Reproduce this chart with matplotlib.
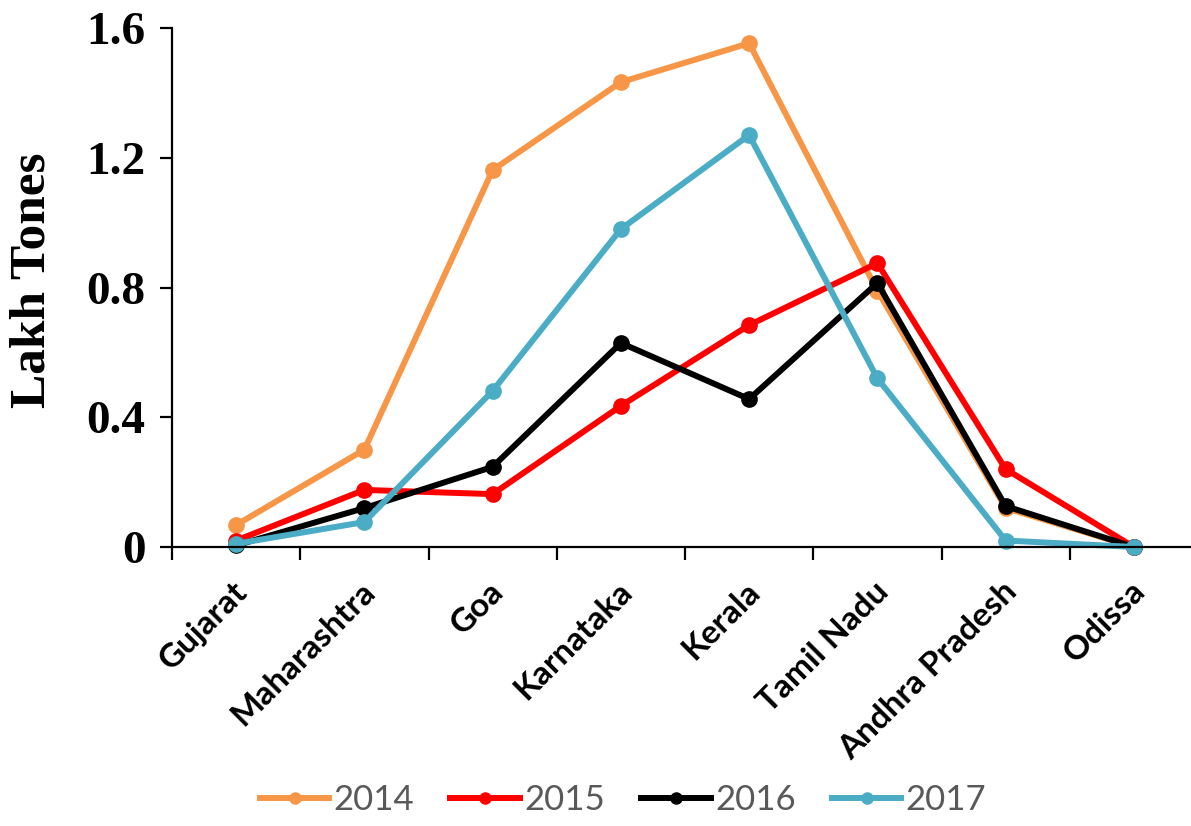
import matplotlib
matplotlib.use("Agg")
import matplotlib.pyplot as plt
from matplotlib.lines import Line2D

states = ["Gujarat", "Maharashtra", "Goa", "Karnataka", "Kerala",
          "Tamil Nadu", "Andhra Pradesh", "Odissa"]
years = ["2014", "2015", "2016", "2017"]

y2014 = [0.068, 0.30, 1.162, 1.433, 1.553, 0.79, 0.12, 0.0]
y2015 = [0.02, 0.176, 0.163, 0.435, 0.684, 0.875, 0.24, 0.0]
y2016 = [0.005, 0.12, 0.247, 0.629, 0.456, 0.814, 0.126, 0.0]
y2017 = [0.01, 0.077, 0.481, 0.98, 1.27, 0.52, 0.02, 0.0]

colors = ["#F79646", "#FF0000", "#000000", "#4BACC6"]
yticks = [0, 0.4, 0.8, 1.2, 1.6]
ytick_labels = ["0", "0.4", "0.8", "1.2", "1.6"]

fig = plt.figure(figsize=(11.91, 8.26), dpi=100)
ax = fig.add_axes([172 / 1191, 1 - 547 / 826, (1198 - 172) / 1191, (547 - 28) / 826])

x = list(range(len(states)))
for vals, c, lab in zip([y2014, y2015, y2016, y2017], colors, years):
    ax.plot(x, vals, color=c, lw=4.3, marker="o", markersize=11,
            solid_joinstyle="round", label=lab, clip_on=False)

ax.set_xlim(-0.5, len(states) - 0.5)
ax.set_ylim(0, 1.6)

for s in ["top", "right"]:
    ax.spines[s].set_visible(False)
for s in ["left", "bottom"]:
    ax.spines[s].set_linewidth(1.6)
    ax.spines[s].set_color("black")

ax.set_yticks(yticks)
ax.set_yticklabels(ytick_labels, fontfamily="Liberation Serif",
                   fontweight="bold", fontsize=34)
ax.tick_params(axis="y", direction="out", length=9, width=1.6, pad=10)

# category boundaries carry the tick marks, labels sit at the centres
ax.set_xticks([i - 0.5 for i in range(len(states) + 1)])
ax.set_xticklabels([])
ax.tick_params(axis="x", direction="out", length=9, width=1.6)
for i, name in enumerate(states):
    ax.annotate(name, xy=(i, 0), xycoords=("data", "axes fraction"),
                xytext=(-3, -21), textcoords="offset points",
                rotation=45, ha="right", va="top", rotation_mode="anchor",
                fontfamily="Lato", fontweight="bold", fontsize=24,
                color="black", annotation_clip=False)

fig.text(33 / 1191, 1 - 280 / 826, "Lakh Tones", rotation=90,
         ha="center", va="center", fontfamily="Liberation Serif",
         fontweight="bold", fontsize=37, color="black")

handles = [Line2D([], [], color=c, lw=4.3, marker="o", markersize=8)
           for c in colors]
leg = fig.legend(handles, years, loc="center", ncol=4,
                 bbox_to_anchor=(623 / 1191, 1 - 800 / 826),
                 frameon=False, handlelength=2.0, handletextpad=0.12,
                 columnspacing=1.05,
                 prop={"family": "Lato", "size": 25})
for t in leg.get_texts():
    t.set_color("#595959")

fig.savefig("out.png", dpi=100)
